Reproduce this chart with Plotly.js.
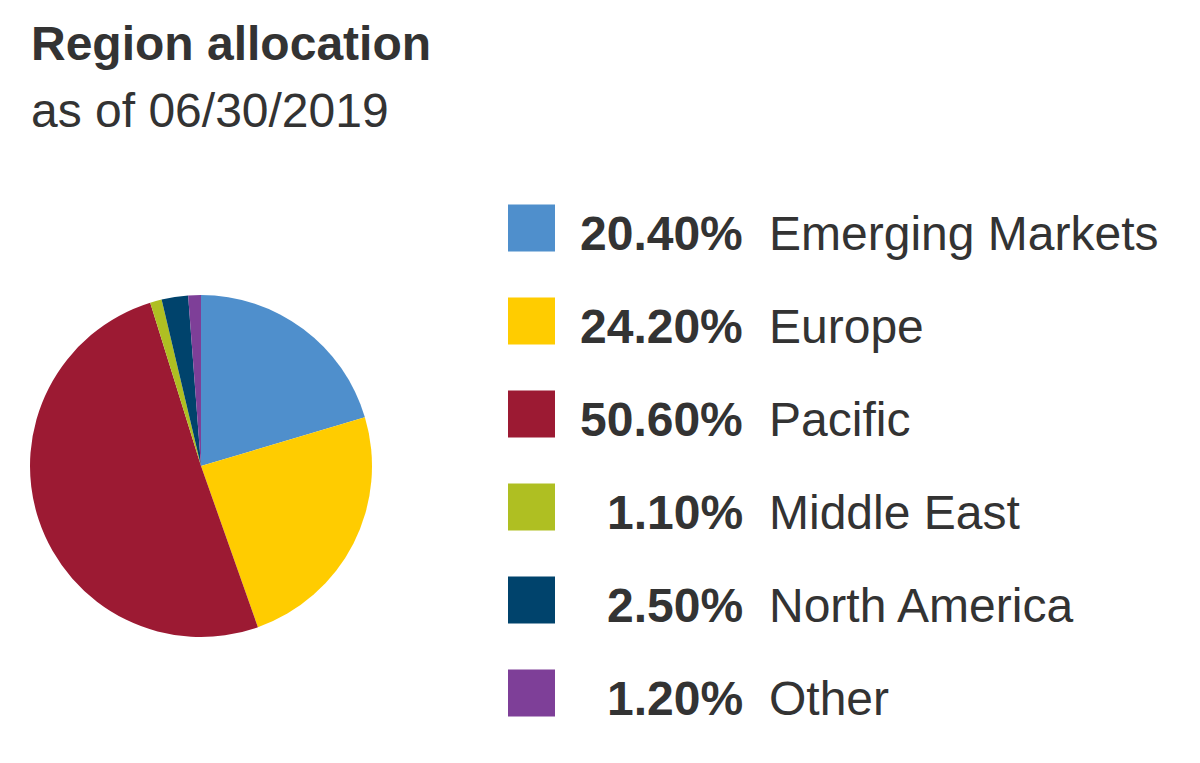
<!DOCTYPE html>
<html>
<head>
<meta charset="utf-8">
<script src="https://cdn.plot.ly/plotly-3.0.1.min.js"></script>
<style>html,body{margin:0;padding:0;background:#fff;}#chart{width:1200px;height:763px;}</style>
</head>
<body>
<div id="chart"></div>
<script>
const regions = ["Emerging Markets", "Europe", "Pacific", "Middle East", "North America", "Other"];
const shares = [20.40, 24.20, 50.60, 1.10, 2.50, 1.20];
const colors = ["#4F8FCC", "#FFCC00", "#9C1A33", "#AFBF22", "#00436C", "#7E3F98"];
const titleText = "Region allocation";
const subtitleText = "as of 06/30/2019";

const W = 1200, H = 763;
const px = x => x / W;
const py = y => 1 - y / H;
const font = "'Liberation Sans', Arial, sans-serif";
const textColor = "#333333";
const fs = 48;

const annotations = [
  {text: "<b>" + titleText + "</b>", x: px(29), y: py(43), xref: "paper", yref: "paper",
   xanchor: "left", yanchor: "middle", showarrow: false, font: {family: font, size: fs, color: textColor}},
  {text: subtitleText, x: px(29), y: py(111), xref: "paper", yref: "paper",
   xanchor: "left", yanchor: "middle", showarrow: false, font: {family: font, size: fs, color: textColor}}
];
const shapes = [];
const rowTop = 228, rowStep = 93, sq = 47;
regions.forEach((r, i) => {
  const cy = rowTop + i * rowStep;
  shapes.push({type: "rect", xref: "paper", yref: "paper",
    x0: px(508), x1: px(508 + sq), y0: py(cy - sq / 2), y1: py(cy + sq / 2),
    fillcolor: colors[i], line: {width: 0}});
  annotations.push({text: "<b>" + shares[i].toFixed(2) + "%</b>", x: px(745), y: py(cy + 5),
    xref: "paper", yref: "paper", xanchor: "right", yanchor: "middle", showarrow: false,
    font: {family: font, size: fs, color: textColor}});
  annotations.push({text: r, x: px(767), y: py(cy + 5),
    xref: "paper", yref: "paper", xanchor: "left", yanchor: "middle", showarrow: false,
    font: {family: font, size: fs, color: textColor}});
});

const data = [{
  type: "pie",
  labels: regions,
  values: shares,
  marker: {colors: colors, line: {width: 0}},
  sort: false,
  direction: "clockwise",
  rotation: 0,
  textinfo: "none",
  hoverinfo: "label+percent",
  showlegend: false,
  domain: {x: [px(30), px(372)], y: [py(637), py(295)]}
}];

const layout = {
  width: W, height: H,
  margin: {l: 0, r: 0, t: 0, b: 0},
  paper_bgcolor: "#ffffff",
  plot_bgcolor: "#ffffff",
  showlegend: false,
  annotations: annotations,
  shapes: shapes
};

Plotly.newPlot("chart", data, layout, {displayModeBar: false, staticPlot: true});
</script>
</body>
</html>
